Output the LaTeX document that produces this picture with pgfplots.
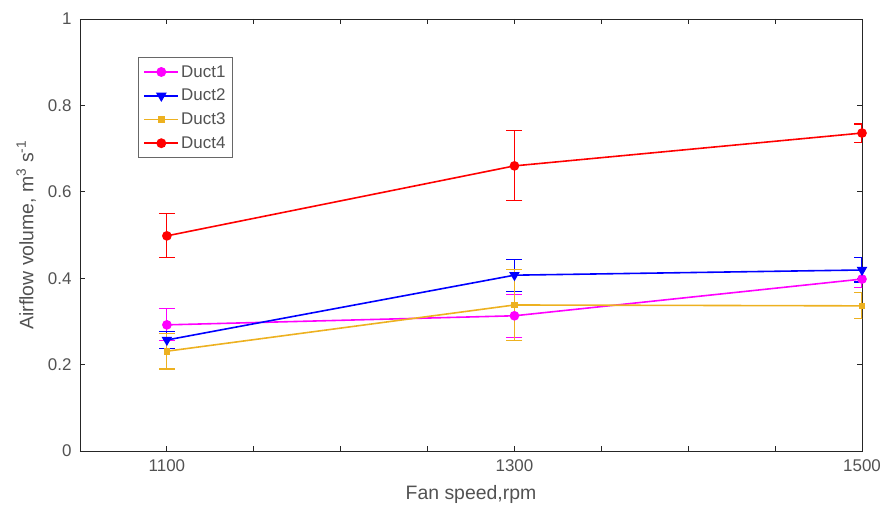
\documentclass[border=0pt]{standalone}
\usepackage{pgfplots}
\pgfplotsset{compat=1.18}
\usepackage{fontspec}
\setmainfont{Liberation Sans}

\definecolor{axgray}{rgb}{0.15,0.15,0.15}
\definecolor{ductmag}{rgb}{1,0,1}
\definecolor{ductblue}{rgb}{0,0,1}
\definecolor{ductyel}{rgb}{0.929,0.694,0.125}
\definecolor{ductred}{rgb}{1,0,0}

\begin{document}
\begin{tikzpicture}
\begin{axis}[
  scale only axis,
  width=782bp, height=432bp,
  xmin=1050, xmax=1500,
  ymin=0, ymax=1,
  xtick={1100,1150,...,1500},
  xticklabels={1100,,,,1300,,,,1500},
  ytick={0,0.2,0.4,0.6,0.8,1},
  yticklabels={0,0.2,0.4,0.6,0.8,1},
  tick align=inside,
  major tick length=5bp,
  axis line style={axgray, line width=0.8pt},
  tick style={axgray, line width=0.8pt},
  ticklabel style={font=\fontsize{17}{20}\selectfont, text=axgray!80},
  xticklabel style={yshift=-5bp},
  yticklabel style={xshift=-5bp},
  /pgf/number format/assume math mode=true,
  xlabel={Fan speed,rpm},
  ylabel={Airflow volume, m\textsuperscript{3} s\textsuperscript{-1}},
  label style={font=\fontsize{19.5}{22}\selectfont, text=axgray!80},
  xlabel style={at={(axis description cs:0.5,-0.0995)}, anchor=center},
  ylabel style={at={(axis description cs:-0.069,0.5)}, anchor=center},
  legend style={at={(0.0742,0.912)}, anchor=north west,
    draw=axgray!70, line width=0.8pt,
    font=\fontsize{17}{20}\selectfont, text=axgray!80,
    row sep=6.5bp, inner xsep=5bp, inner ysep=6bp},
  legend cell align=left,
  legend image code/.code={
    \draw[mark repeat=2, mark phase=2]
      plot coordinates {(0bp,0bp) (17bp,0bp) (34bp,0bp)};
  },
  legend image post style={line width=1.8pt},
  every axis plot/.append style={line width=1.6pt},
  error bars/y dir=both,
  error bars/y explicit,
  error bars/error mark options={rotate=90, mark size=8bp, line width=1.2pt},
  error bars/error bar style={line width=1.2pt},
]
\addplot[color=ductmag, mark=*, mark size=4bp,
  error bars/error bar style={color=ductmag, line width=1.2pt}]
  coordinates {(1100,0.292) +- (0,0.037) (1300,0.313) +- (0,0.05) (1500,0.398) +- (0,0.02)};
\addlegendentry{Duct1}
\addplot[color=ductblue, mark=triangle*, mark options={rotate=180}, mark size=4.5bp,
  error bars/error bar style={color=ductblue, line width=1.2pt}]
  coordinates {(1100,0.257) +- (0,0.02) (1300,0.407) +- (0,0.037) (1500,0.419) +- (0,0.028)};
\addlegendentry{Duct2}
\addplot[color=ductyel, mark=square*, mark size=2.5bp,
  error bars/error bar style={color=ductyel, line width=1.2pt}]
  coordinates {(1100,0.231) +- (0,0.041) (1300,0.338) +- (0,0.083) (1500,0.336) +- (0,0.03)};
\addlegendentry{Duct3}
\addplot[color=ductred, mark=*, mark size=4bp,
  error bars/error bar style={color=ductred, line width=1.2pt}]
  coordinates {(1100,0.498) +- (0,0.051) (1300,0.660) +- (0,0.081) (1500,0.736) +- (0,0.021)};
\addlegendentry{Duct4}
\end{axis}
% fixed margins around the axis box
\path ([xshift=-80bp,yshift=-65bp]current axis.south west)
  rectangle ([xshift=24bp,yshift=19bp]current axis.north east);
\end{tikzpicture}
\end{document}
